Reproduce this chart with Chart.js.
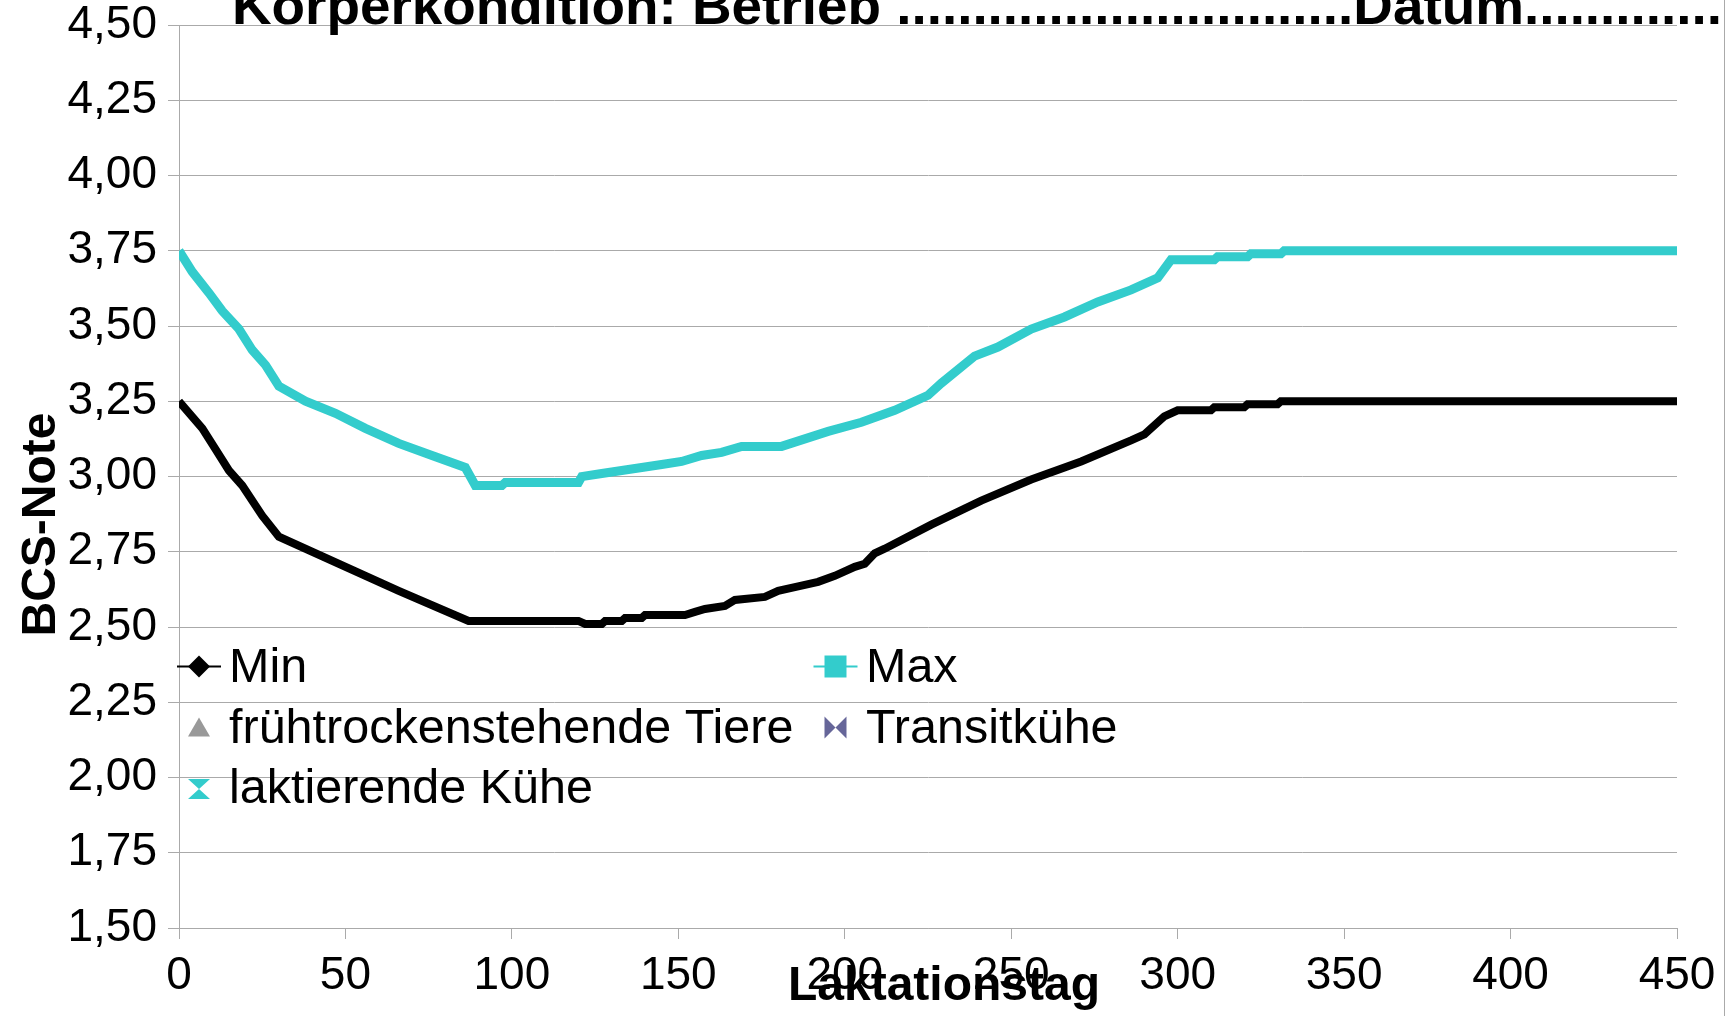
<!DOCTYPE html>
<html><head><meta charset="utf-8">
<script src="https://cdn.jsdelivr.net/npm/chart.js@4.4.1/dist/chart.umd.min.js"></script>
<style>html,body{margin:0;padding:0;background:#fff;overflow:hidden}#wrap{position:relative;width:1731px;height:1016px}</style>
</head><body><div id="wrap"><canvas id="c" width="1731" height="1016"></canvas></div>
<script>
// ---------- data ----------
const titleText = 'Körperkondition: Betrieb ..............................Datum.............';
const xAxisTitle = 'Laktationstag';
const yAxisTitle = 'BCS-Note';
const xTickValues = [0, 50, 100, 150, 200, 250, 300, 350, 400, 450];
const xTickLabels = ['0', '50', '100', '150', '200', '250', '300', '350', '400', '450'];
const yTickValues = [1.5, 1.75, 2.0, 2.25, 2.5, 2.75, 3.0, 3.25, 3.5, 3.75, 4.0, 4.25, 4.5];
const yTickLabels = ['1,50', '1,75', '2,00', '2,25', '2,50', '2,75', '3,00', '3,25', '3,50', '3,75', '4,00', '4,25', '4,50'];
const seriesNames = ['Min', 'Max', 'frühtrockenstehende Tiere', 'Transitkühe', 'laktierende Kühe'];

const minDays   = [0, 7, 11, 15, 19, 25, 30, 66, 87, 120, 122, 127, 128, 133, 134, 139, 140, 152, 155, 158, 164, 167, 176, 180, 186, 192, 197, 203, 206, 209, 212, 226, 241, 256, 271, 286, 290, 296, 300, 310, 311, 320, 321, 330, 331, 450];
const minValues = [3.25, 3.16, 3.09, 3.02, 2.97, 2.87, 2.80, 2.62, 2.52, 2.52, 2.51, 2.51, 2.52, 2.52, 2.53, 2.53, 2.54, 2.54, 2.55, 2.56, 2.57, 2.59, 2.60, 2.62, 2.635, 2.65, 2.67, 2.70, 2.71, 2.745, 2.76, 2.84, 2.92, 2.99, 3.05, 3.12, 3.14, 3.20, 3.22, 3.22, 3.23, 3.23, 3.24, 3.24, 3.25, 3.25];

const maxDays   = [0, 4, 9, 13, 18, 22, 26, 30, 38, 47, 56, 66, 76, 86, 89, 97, 98, 120, 121, 127, 133, 139, 145, 151, 157, 163, 169, 181, 195, 205, 215, 225, 229, 239, 246, 256, 266, 276, 286, 294, 298, 311, 312, 321, 322, 331, 332, 450];
const maxValues = [3.75, 3.68, 3.61, 3.55, 3.49, 3.42, 3.37, 3.30, 3.25, 3.21, 3.16, 3.11, 3.07, 3.03, 2.97, 2.97, 2.98, 2.98, 3.00, 3.01, 3.02, 3.03, 3.04, 3.05, 3.07, 3.08, 3.10, 3.10, 3.15, 3.18, 3.22, 3.27, 3.31, 3.40, 3.43, 3.49, 3.53, 3.58, 3.62, 3.66, 3.72, 3.72, 3.73, 3.73, 3.74, 3.74, 3.75, 3.75];

// groups shown only in the legend (no values in the chart)
const fruehDays = [], fruehValues = [];
const transitDays = [], transitValues = [];
const laktDays = [], laktValues = [];

// ---------- styling ----------
const FONT = '"Liberation Sans", Arial, Helvetica, sans-serif';
const GRID = '#aaaaaa';
const CYAN = '#33CCCC';
const toXY = (xs, ys) => xs.map((x, i) => ({ x: x, y: ys[i] }));

function drawMarker(ctx, kind, cx, cy, color) {
  ctx.save();
  ctx.fillStyle = color;
  ctx.beginPath();
  if (kind === 'diamond') {
    ctx.moveTo(cx, cy - 11); ctx.lineTo(cx + 11, cy); ctx.lineTo(cx, cy + 11); ctx.lineTo(cx - 11, cy);
  } else if (kind === 'square') {
    ctx.rect(cx - 11, cy - 11, 22, 22);
  } else if (kind === 'triangle') {
    ctx.moveTo(cx, cy - 10); ctx.lineTo(cx + 11, cy + 9); ctx.lineTo(cx - 11, cy + 9);
  } else if (kind === 'bowtie') {
    ctx.moveTo(cx - 11, cy - 11); ctx.lineTo(cx, cy); ctx.lineTo(cx - 11, cy + 11); ctx.closePath();
    ctx.moveTo(cx + 11, cy - 11); ctx.lineTo(cx, cy); ctx.lineTo(cx + 11, cy + 11);
  } else if (kind === 'hourglass') {
    ctx.moveTo(cx - 11, cy - 10); ctx.lineTo(cx + 11, cy - 10); ctx.lineTo(cx, cy); ctx.closePath();
    ctx.moveTo(cx - 11, cy + 10); ctx.lineTo(cx + 11, cy + 10); ctx.lineTo(cx, cy);
  }
  ctx.closePath();
  ctx.fill();
  ctx.restore();
}

const decorPlugin = {
  id: 'decor',
  afterDraw(chart) {
    const ctx = chart.ctx;
    ctx.save();
    // right frame line
    ctx.strokeStyle = GRID; ctx.lineWidth = 1;
    ctx.beginPath(); ctx.moveTo(1724.5, 0); ctx.lineTo(1724.5, 1016); ctx.stroke();

    // title (partly cut off at the top, as in the reference)
    ctx.fillStyle = '#000';
    ctx.font = 'bold 54px ' + FONT;
    ctx.textBaseline = 'alphabetic'; ctx.textAlign = 'left';
    const w = ctx.measureText(titleText).width;
    const sx = 1490 / w;
    ctx.save();
    ctx.translate(232, 23.5);
    ctx.scale(sx, 1);
    ctx.fillText(titleText, 0, 0);
    ctx.restore();

    // axis titles
    ctx.font = 'bold 48px ' + FONT;
    ctx.textAlign = 'center';
    ctx.fillText(xAxisTitle, 944, 1000);
    ctx.save();
    ctx.translate(55, 524.5);
    ctx.rotate(-Math.PI / 2);
    ctx.fillText(yAxisTitle, 0, 0);
    ctx.restore();

    // legend inside the plot
    const cols = [{ m: 199, t: 229 }, { m: 835.5, t: 866 }];
    const rowsMarker = [666.5, 727.5, 789];
    const rowsBase = [682, 742.5, 803];
    ctx.font = '48.5px ' + FONT;
    ctx.textAlign = 'left';
    chart.data.datasets.forEach((ds, i) => {
      const c = cols[i % 2], r = Math.floor(i / 2);
      const my = rowsMarker[r];
      if (ds.legendLine) {
        ctx.strokeStyle = ds.borderColor; ctx.lineWidth = 2;
        ctx.beginPath(); ctx.moveTo(c.m - 22, my); ctx.lineTo(c.m + 22, my); ctx.stroke();
      }
      drawMarker(ctx, ds.legendMarker, c.m, my, ds.backgroundColor);
      ctx.fillStyle = '#000';
      ctx.fillText(ds.label, c.t, rowsBase[r]);
    });
    ctx.restore();
  }
};

new Chart(document.getElementById('c'), {
  type: 'line',
  data: {
    datasets: [
      { label: seriesNames[0], data: toXY(minDays, minValues), borderColor: '#000000', backgroundColor: '#000000', borderWidth: 8, pointRadius: 0, tension: 0, legendMarker: 'diamond', legendLine: true },
      { label: seriesNames[1], data: toXY(maxDays, maxValues), borderColor: CYAN, backgroundColor: CYAN, borderWidth: 9, pointRadius: 0, tension: 0, legendMarker: 'square', legendLine: true },
      { label: seriesNames[2], data: toXY(fruehDays, fruehValues), borderColor: '#999999', backgroundColor: '#999999', showLine: false, pointStyle: 'triangle', pointRadius: 10, legendMarker: 'triangle' },
      { label: seriesNames[3], data: toXY(transitDays, transitValues), borderColor: '#666699', backgroundColor: '#666699', showLine: false, pointRadius: 10, legendMarker: 'bowtie' },
      { label: seriesNames[4], data: toXY(laktDays, laktValues), borderColor: CYAN, backgroundColor: CYAN, showLine: false, pointRadius: 10, legendMarker: 'hourglass' }
    ]
  },
  options: {
    responsive: false,
    animation: false,
    layout: { padding: { top: 25, right: 54, left: 0, bottom: 0 } },
    plugins: { legend: { display: false }, tooltip: { enabled: false }, title: { display: false } },
    scales: {
      x: {
        type: 'linear', min: 0, max: 450,
        afterBuildTicks: s => { s.ticks = xTickValues.map(v => ({ value: v })); },
        afterFit: s => { s.height = 88; s.paddingLeft = 0; s.paddingRight = 0; },
        ticks: { font: { family: FONT, size: 46, lineHeight: 1 }, color: '#000', padding: 14, maxRotation: 0, autoSkip: false,
                 callback: (v) => xTickLabels[xTickValues.indexOf(v)] },
        grid: { drawOnChartArea: false, drawTicks: true, tickLength: 11, color: GRID, lineWidth: 1 },
        border: { color: GRID, width: 1 }
      },
      y: {
        type: 'linear', min: 1.5, max: 4.5,
        afterBuildTicks: s => { s.ticks = yTickValues.map(v => ({ value: v })); },
        afterFit: s => { s.width = 179; s.paddingTop = 0; s.paddingBottom = 0; },
        ticks: { font: { family: FONT, size: 46, lineHeight: 1 }, color: '#000', padding: 11, autoSkip: false,
                 callback: (v) => yTickLabels[yTickValues.findIndex(t => Math.abs(t - v) < 1e-6)] },
        grid: { drawOnChartArea: true, drawTicks: true, tickLength: 11, color: GRID, lineWidth: 1 },
        border: { color: GRID, width: 1 }
      }
    }
  },
  plugins: [decorPlugin]
});
</script>
</body></html>
